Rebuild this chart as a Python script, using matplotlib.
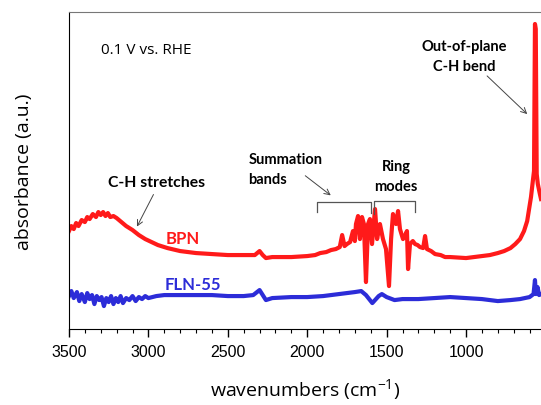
import numpy as np
import matplotlib
matplotlib.use('Agg')
from matplotlib import pyplot as plt
from matplotlib.ticker import MultipleLocator

# spectrum values (wavenumber, absorbance a.u.)
bpn_wn = [3500, 3485, 3470, 3455, 3440, 3420, 3400, 3385, 3370, 3350, 3330, 3315,
          3300, 3285, 3270, 3255, 3240, 3220, 3200, 3170, 3140, 3100, 3060, 3020,
          2980, 2940, 2880, 2800, 2700, 2600, 2500, 2400, 2330, 2300, 2280, 2260,
          2220, 2100, 2000, 1950, 1918, 1880, 1850, 1820, 1795, 1780, 1765, 1750,
          1730, 1712, 1700, 1693, 1680, 1668, 1655, 1643, 1630, 1617, 1605, 1592,
          1573, 1560, 1542, 1523, 1504, 1485, 1472, 1460, 1441, 1428, 1416, 1397,
          1380, 1372, 1365, 1353, 1335, 1321, 1305, 1290, 1270, 1258, 1246, 1220,
          1195, 1160, 1132, 1100, 1000, 900, 850, 800, 760, 720, 690, 660, 635, 615,
          603, 591, 578, 572, 566, 561, 555, 548, 535, 528]
bpn_abs = [0.98, 1.03, 1.00, 1.06, 1.03, 1.09, 1.07, 1.12, 1.10, 1.15, 1.12, 1.17,
           1.14, 1.17, 1.13, 1.16, 1.12, 1.13, 1.11, 1.07, 1.03, 0.99, 0.94, 0.90,
           0.87, 0.84, 0.81, 0.78, 0.76, 0.75, 0.74, 0.74, 0.74, 0.78, 0.74, 0.71,
           0.72, 0.72, 0.73, 0.74, 0.76, 0.77, 0.79, 0.80, 0.82, 0.94, 0.83, 0.85,
           0.87, 0.98, 0.88, 1.05, 1.13, 0.90, 1.12, 1.05, 0.47, 1.05, 1.10, 0.85,
           1.20, 0.90, 1.05, 0.90, 0.80, 0.43, 0.90, 1.15, 1.05, 1.18, 1.00, 0.90,
           0.95, 0.98, 0.60, 0.85, 0.88, 0.85, 0.84, 0.82, 0.81, 0.93, 0.80, 0.78,
           0.75, 0.74, 0.72, 0.72, 0.71, 0.73, 0.74, 0.76, 0.78, 0.81, 0.85, 0.90,
           0.98, 1.08, 1.20, 1.32, 1.50, 1.58, 3.05, 3.00, 1.55, 1.45, 1.35, 1.30]

fln_wn = [3500, 3485, 3470, 3450, 3435, 3420, 3400, 3385, 3370, 3355, 3340, 3325,
          3310, 3295, 3280, 3265, 3250, 3235, 3220, 3205, 3190, 3175, 3160, 3140,
          3120, 3100, 3080, 3060, 3040, 3020, 3000, 2950, 2900, 2800, 2700, 2600,
          2500, 2400, 2340, 2300, 2280, 2260, 2220, 2100, 2000, 1900, 1800, 1700,
          1660, 1630, 1590, 1550, 1530, 1500, 1450, 1400, 1300, 1200, 1100, 1000,
          900, 800, 720, 660, 600, 575, 566, 560, 550, 540, 528]
fln_abs = [0.33, 0.38, 0.31, 0.37, 0.28, 0.35, 0.27, 0.36, 0.30, 0.34, 0.25, 0.33,
           0.29, 0.32, 0.23, 0.31, 0.27, 0.33, 0.25, 0.31, 0.27, 0.33, 0.26, 0.31,
           0.29, 0.33, 0.28, 0.32, 0.30, 0.33, 0.31, 0.33, 0.34, 0.34, 0.34, 0.34,
           0.33, 0.33, 0.34, 0.39, 0.34, 0.29, 0.31, 0.32, 0.32, 0.33, 0.35, 0.37,
           0.38, 0.34, 0.26, 0.33, 0.35, 0.32, 0.29, 0.30, 0.30, 0.31, 0.32, 0.31,
           0.30, 0.28, 0.29, 0.30, 0.32, 0.35, 0.49, 0.35, 0.42, 0.34, 0.35]

xticks = [3500, 3000, 2500, 2000, 1500, 1000]

red = '#ff1a1a'
blue = '#2c2cd8'

fig = plt.figure(figsize=(5.41, 4.06), dpi=100)
ax = fig.add_axes([0.1275, 0.187, 0.8725, 0.781])

ax.plot(bpn_wn, bpn_abs, color=red, lw=3)
ax.plot(fln_wn, fln_abs, color=blue, lw=3)

ax.set_xlim(3500, 528)
ax.set_ylim(0, 3.17)
ax.set_xticks(xticks)
ax.set_xticklabels([str(t) for t in xticks], fontsize=11.5, family='Liberation Sans')
ax.xaxis.set_minor_locator(MultipleLocator(100))
ax.tick_params(axis='x', which='major', length=6, width=1, direction='out', pad=5)
ax.tick_params(axis='x', which='minor', length=3, width=0.8, direction='out')
ax.set_yticks([])
ax.spines['right'].set_visible(False)
ax.spines['top'].set_color('#777777')

plt.rcParams['mathtext.fontset'] = 'custom'
plt.rcParams['mathtext.rm'] = 'Open Sans'
ax.set_xlabel('wavenumbers (cm$^{\\mathregular{-1}}$)', fontsize=14, family='Open Sans', labelpad=12)
ax.set_ylabel('absorbance (a.u.)', fontsize=14, family='Open Sans', labelpad=26)

# annotations
ax.text(3300, 2.8, '0.1 V vs. RHE', fontsize=11, family='Open Sans', va='center')
ax.text(1010, 2.73, 'Out-of-plane\nC-H bend', fontsize=10.5, family='Lato',
        weight='bold', ha='center', va='center', linespacing=1.6)
ax.annotate('', xy=(602, 2.13), xytext=(880, 2.55),
            arrowprops=dict(arrowstyle='->', color='#444444', lw=0.7))
ax.text(3254, 1.47, 'C-H stretches', fontsize=11.3, family='Lato', weight='bold', va='center')
ax.annotate('', xy=(3080, 1.0), xytext=(2960, 1.37),
            arrowprops=dict(arrowstyle='->', color='#444444', lw=0.7))
ax.text(2370, 1.6, 'Summation\nbands', fontsize=10.5, family='Lato', weight='bold',
        va='center', linespacing=1.6)
ax.annotate('', xy=(1838, 1.32), xytext=(2026, 1.55),
            arrowprops=dict(arrowstyle='->', color='#444444', lw=0.7))
ax.text(1440, 1.53, 'Ring\nmodes', fontsize=10.5, family='Lato', weight='bold',
        ha='center', va='center', linespacing=1.6)

# brackets
ax.plot([1938, 1938, 1598, 1598], [1.17, 1.27, 1.27, 1.16], color='#555555', lw=0.9)
ax.plot([1579, 1579, 1321, 1321], [1.15, 1.28, 1.28, 1.17], color='#555555', lw=0.9)

ax.text(2889, 0.91, 'BPN', color=red, fontsize=12, family='Lato', weight='bold', va='center')
ax.text(2896, 0.45, 'FLN-55', color=blue, fontsize=12, family='Lato', weight='bold', va='center')

plt.savefig('out.png', dpi=100)
